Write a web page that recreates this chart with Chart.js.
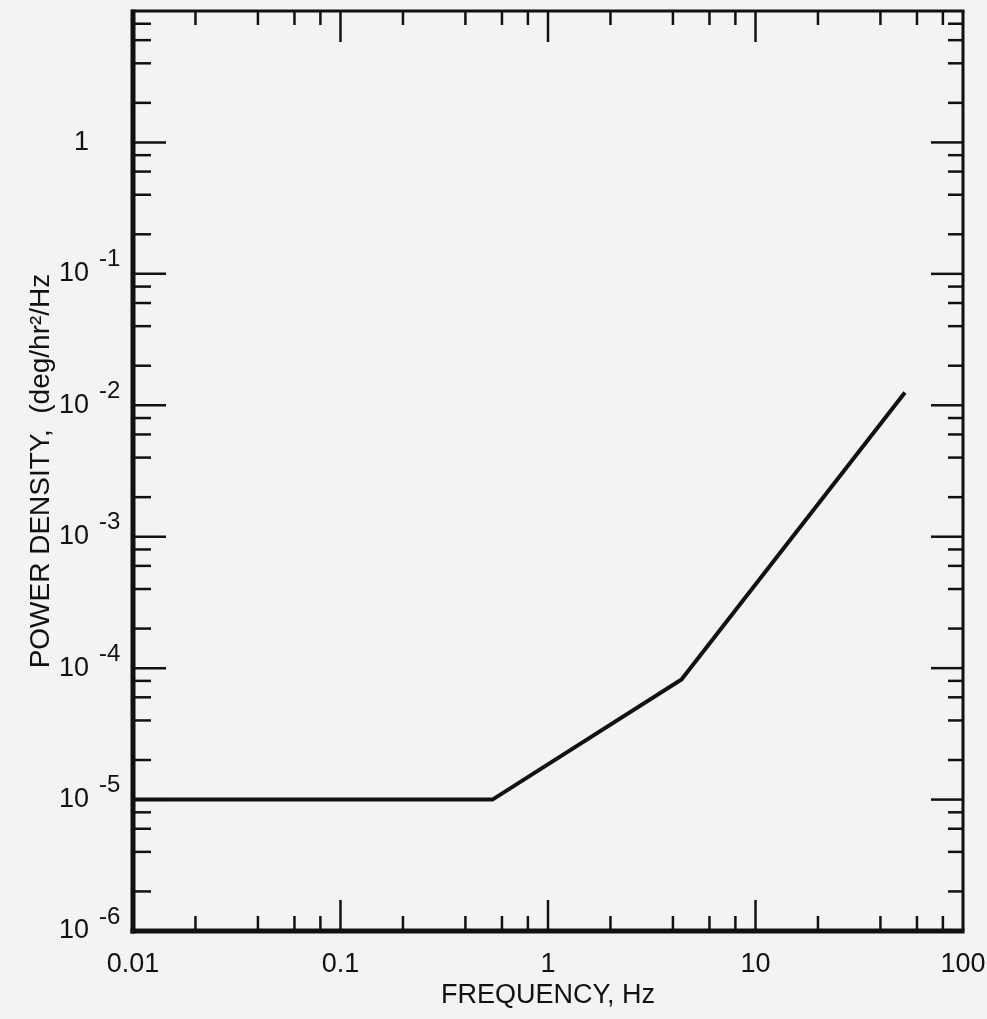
<!DOCTYPE html>
<html>
<head>
<meta charset="utf-8">
<script src="https://cdn.jsdelivr.net/npm/chart.js@4.4.1/dist/chart.umd.min.js"></script>
<style>
  html, body { margin: 0; padding: 0; background: #f3f3f3; }
  #wrap { width: 987px; height: 1019px; }
</style>
</head>
<body>
<div id="wrap"><canvas id="c" width="987" height="1019"></canvas></div>
<script>
// ---- data ----
const FREQ = [0.01, 0.54, 4.4, 52.5];            // Hz
const PSD  = [1e-5, 1e-5, 8.2e-5, 1.25e-2];      // (deg/hr)^2/Hz
const X_DECADES = [0.01, 0.1, 1, 10, 100];
const X_LABELS  = ['0.01', '0.1', '1', '10', '100'];
const Y_DECADES = [1e-6, 1e-5, 1e-4, 1e-3, 1e-2, 1e-1, 1, 10];
const Y_BASES   = ['10', '10', '10', '10', '10', '10', '1', null];
const Y_EXPS    = ['-6', '-5', '-4', '-3', '-2', '-1', '', ''];
const MINOR_STEPS = [2, 4, 6, 8];
const X_TITLE = 'FREQUENCY, Hz';
const Y_TITLE = 'POWER DENSITY,  (deg/hr\u00B2/Hz';

const FONT = "'Liberation Sans', Arial, sans-serif";
const INK = '#111';

function makeTicks(decades) {
  const out = [];
  decades.forEach((d, i) => {
    out.push({ value: d, major: true });
    if (i < decades.length - 1) MINOR_STEPS.forEach(m => out.push({ value: d * m, major: false }));
  });
  return out;
}
const X_TICKS = makeTicks(X_DECADES);
const Y_TICKS = makeTicks(Y_DECADES);

function decadeIndex(list, v) {
  return list.findIndex(d => Math.abs(Math.log10(d) - Math.log10(v)) < 1e-6);
}

const bgPlugin = {
  id: 'bg',
  beforeDraw(chart) {
    const c = chart.ctx;
    c.save(); c.fillStyle = '#f3f3f3'; c.fillRect(0, 0, chart.width, chart.height); c.restore();
  }
};

const frameTicks = {
  id: 'frameTicks',
  afterDraw(chart) {
    const { ctx, chartArea: a, scales: { x, y } } = chart;
    const seg = (x1, y1, x2, y2) => { ctx.beginPath(); ctx.moveTo(x1, y1); ctx.lineTo(x2, y2); ctx.stroke(); };
    ctx.save();
    ctx.strokeStyle = INK;
    ctx.lineWidth = 2.5;
    X_TICKS.forEach(t => {
      const px = x.getPixelForValue(t.value);
      if (px <= a.left + 1 || px >= a.right - 1) return;
      seg(px, a.bottom, px, a.bottom - (t.major ? 31 : 15));
      seg(px, a.top, px, a.top + (t.major ? 31 : 14));
    });
    Y_TICKS.forEach(t => {
      const py = y.getPixelForValue(t.value);
      if (py <= a.top + 1 || py >= a.bottom - 1) return;
      seg(a.left, py, a.left + (t.major ? 33 : 18), py);
      seg(a.right, py, a.right - (t.major ? 32 : 15), py);
    });
    // frame
    ctx.lineWidth = 3;
    seg(a.left - 1, a.top, a.right + 1.5, a.top);
    seg(a.right, a.top, a.right, a.bottom);
    ctx.lineWidth = 5;
    seg(a.left, a.top - 1.5, a.left, a.bottom + 2.5);
    seg(a.left - 2.5, a.bottom, a.right + 1.5, a.bottom);
    // exponents of the y tick labels
    ctx.fillStyle = INK;
    ctx.font = "24px " + FONT;
    ctx.textAlign = 'left';
    ctx.textBaseline = 'middle';
    const xExp = a.left - y.options.ticks.padding + 2;
    Y_DECADES.forEach((v, i) => {
      if (!Y_EXPS[i]) return;
      ctx.fillText(Y_EXPS[i], xExp, y.getPixelForValue(v) - 14);
    });
    ctx.restore();
  }
};

new Chart(document.getElementById('c'), {
  type: 'line',
  data: {
    datasets: [{
      data: FREQ.map((f, i) => ({ x: f, y: PSD[i] })),
      borderColor: INK,
      borderWidth: 4,
      pointRadius: 0,
      tension: 0,
      fill: false
    }]
  },
  options: {
    responsive: false,
    animation: false,
    layout: { padding: { left: 0, right: 24, top: 11, bottom: 0 } },
    plugins: { legend: { display: false }, tooltip: { enabled: false } },
    scales: {
      x: {
        type: 'logarithmic',
        min: 0.01, max: 100,
        afterBuildTicks: s => { s.ticks = X_DECADES.map(v => ({ value: v, major: true })); },
        afterFit: s => { s.height = 88; s.paddingLeft = 0; s.paddingRight = 0; },
        grid: { display: false },
        border: { display: false },
        ticks: {
          autoSkip: false, maxRotation: 0, padding: 9,
          color: INK, font: { family: FONT, size: 27 },
          callback: v => { const i = decadeIndex(X_DECADES, v); return i >= 0 ? X_LABELS[i] : null; }
        },
        title: {
          display: true, text: X_TITLE, color: INK,
          font: { family: FONT, size: 27 },
          padding: { top: 0, bottom: 7 }
        }
      },
      y: {
        type: 'logarithmic',
        min: 1e-6, max: 10,
        afterBuildTicks: s => { s.ticks = Y_DECADES.map(v => ({ value: v, major: true })); },
        afterFit: s => { s.width = 133; s.paddingTop = 0; s.paddingBottom = 0; },
        grid: { display: false },
        border: { display: false },
        ticks: {
          autoSkip: false, padding: 36,
          color: INK, font: { family: FONT, size: 27 },
          callback: v => { const i = decadeIndex(Y_DECADES, v); return i >= 0 ? Y_BASES[i] : null; }
        },
        title: {
          display: true, text: Y_TITLE, color: INK,
          font: { family: FONT, size: 28 },
          padding: { top: 24, bottom: 0 }
        }
      }
    }
  },
  plugins: [bgPlugin, frameTicks]
});
</script>
</body>
</html>
